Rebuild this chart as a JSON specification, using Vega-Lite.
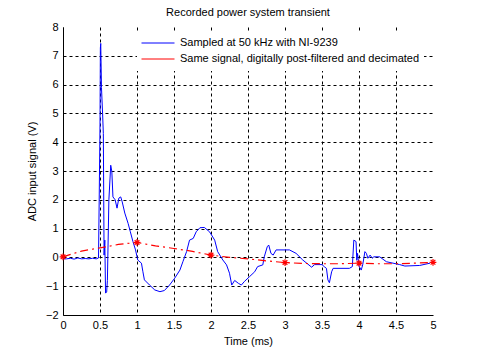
{
  "$schema": "https://vega.github.io/schema/vega-lite/v6.json",
  "width": 370,
  "height": 288,
  "autosize": {"type": "none"},
  "padding": {"left": 63, "top": 27, "right": 47, "bottom": 40},
  "background": "white",
  "title": {"text": "Recorded power system transient", "fontSize": 11, "fontWeight": "normal", "font": "Liberation Sans", "color": "black", "offset": 3, "anchor": "middle"},
  "config": {
    "view": {"stroke": null},
    "font": "Liberation Sans",
    "axis": {"labelFont": "Liberation Sans", "titleFont": "Liberation Sans", "labelFontSize": 11, "titleFontSize": 11, "titleFontWeight": "normal", "labelColor": "black", "titleColor": "black", "domainColor": "black", "gridColor": "black", "gridDash": [3, 3], "gridOpacity": 1, "gridWidth": 1, "ticks": false}
  },
  "data": {"values": [
    {"t": 0, "v": -0.05, "series": "Sampled at 50 kHz with NI-9239"},
    {"t": 0.05, "v": -0.05, "series": "Sampled at 50 kHz with NI-9239"},
    {"t": 0.1, "v": -0.03, "series": "Sampled at 50 kHz with NI-9239"},
    {"t": 0.15, "v": -0.06, "series": "Sampled at 50 kHz with NI-9239"},
    {"t": 0.2, "v": -0.02, "series": "Sampled at 50 kHz with NI-9239"},
    {"t": 0.25, "v": -0.05, "series": "Sampled at 50 kHz with NI-9239"},
    {"t": 0.3, "v": -0.04, "series": "Sampled at 50 kHz with NI-9239"},
    {"t": 0.35, "v": -0.05, "series": "Sampled at 50 kHz with NI-9239"},
    {"t": 0.4, "v": -0.03, "series": "Sampled at 50 kHz with NI-9239"},
    {"t": 0.45, "v": -0.05, "series": "Sampled at 50 kHz with NI-9239"},
    {"t": 0.48, "v": -0.02, "series": "Sampled at 50 kHz with NI-9239"},
    {"t": 0.49, "v": 2.2, "series": "Sampled at 50 kHz with NI-9239"},
    {"t": 0.5, "v": 4.6, "series": "Sampled at 50 kHz with NI-9239"},
    {"t": 0.505, "v": 7.27, "series": "Sampled at 50 kHz with NI-9239"},
    {"t": 0.51, "v": 7.43, "series": "Sampled at 50 kHz with NI-9239"},
    {"t": 0.52, "v": 5.9, "series": "Sampled at 50 kHz with NI-9239"},
    {"t": 0.535, "v": 5.0, "series": "Sampled at 50 kHz with NI-9239"},
    {"t": 0.545, "v": 4.3, "series": "Sampled at 50 kHz with NI-9239"},
    {"t": 0.555, "v": 0.08, "series": "Sampled at 50 kHz with NI-9239"},
    {"t": 0.565, "v": 0.6, "series": "Sampled at 50 kHz with NI-9239"},
    {"t": 0.575, "v": -1.24, "series": "Sampled at 50 kHz with NI-9239"},
    {"t": 0.59, "v": -1.2, "series": "Sampled at 50 kHz with NI-9239"},
    {"t": 0.6, "v": -0.8, "series": "Sampled at 50 kHz with NI-9239"},
    {"t": 0.62, "v": 2.0, "series": "Sampled at 50 kHz with NI-9239"},
    {"t": 0.645, "v": 3.2, "series": "Sampled at 50 kHz with NI-9239"},
    {"t": 0.66, "v": 2.98, "series": "Sampled at 50 kHz with NI-9239"},
    {"t": 0.675, "v": 2.1, "series": "Sampled at 50 kHz with NI-9239"},
    {"t": 0.705, "v": 2.0, "series": "Sampled at 50 kHz with NI-9239"},
    {"t": 0.73, "v": 1.71, "series": "Sampled at 50 kHz with NI-9239"},
    {"t": 0.755, "v": 2.06, "series": "Sampled at 50 kHz with NI-9239"},
    {"t": 0.78, "v": 2.1, "series": "Sampled at 50 kHz with NI-9239"},
    {"t": 0.8, "v": 1.93, "series": "Sampled at 50 kHz with NI-9239"},
    {"t": 0.835, "v": 1.54, "series": "Sampled at 50 kHz with NI-9239"},
    {"t": 0.88, "v": 1.18, "series": "Sampled at 50 kHz with NI-9239"},
    {"t": 0.91, "v": 0.89, "series": "Sampled at 50 kHz with NI-9239"},
    {"t": 0.945, "v": 0.55, "series": "Sampled at 50 kHz with NI-9239"},
    {"t": 0.98, "v": 0.26, "series": "Sampled at 50 kHz with NI-9239"},
    {"t": 1.01, "v": -0.09, "series": "Sampled at 50 kHz with NI-9239"},
    {"t": 1.06, "v": -0.2, "series": "Sampled at 50 kHz with NI-9239"},
    {"t": 1.08, "v": -0.5, "series": "Sampled at 50 kHz with NI-9239"},
    {"t": 1.1, "v": -0.78, "series": "Sampled at 50 kHz with NI-9239"},
    {"t": 1.17, "v": -0.96, "series": "Sampled at 50 kHz with NI-9239"},
    {"t": 1.24, "v": -1.13, "series": "Sampled at 50 kHz with NI-9239"},
    {"t": 1.31, "v": -1.19, "series": "Sampled at 50 kHz with NI-9239"},
    {"t": 1.37, "v": -1.15, "series": "Sampled at 50 kHz with NI-9239"},
    {"t": 1.44, "v": -0.96, "series": "Sampled at 50 kHz with NI-9239"},
    {"t": 1.51, "v": -0.72, "series": "Sampled at 50 kHz with NI-9239"},
    {"t": 1.58, "v": -0.44, "series": "Sampled at 50 kHz with NI-9239"},
    {"t": 1.62, "v": -0.15, "series": "Sampled at 50 kHz with NI-9239"},
    {"t": 1.67, "v": 0.2, "series": "Sampled at 50 kHz with NI-9239"},
    {"t": 1.71, "v": 0.6, "series": "Sampled at 50 kHz with NI-9239"},
    {"t": 1.76, "v": 0.66, "series": "Sampled at 50 kHz with NI-9239"},
    {"t": 1.8, "v": 0.89, "series": "Sampled at 50 kHz with NI-9239"},
    {"t": 1.85, "v": 1.03, "series": "Sampled at 50 kHz with NI-9239"},
    {"t": 1.91, "v": 1.04, "series": "Sampled at 50 kHz with NI-9239"},
    {"t": 1.98, "v": 0.89, "series": "Sampled at 50 kHz with NI-9239"},
    {"t": 2.05, "v": 0.6, "series": "Sampled at 50 kHz with NI-9239"},
    {"t": 2.09, "v": 0.2, "series": "Sampled at 50 kHz with NI-9239"},
    {"t": 2.16, "v": -0.09, "series": "Sampled at 50 kHz with NI-9239"},
    {"t": 2.21, "v": -0.26, "series": "Sampled at 50 kHz with NI-9239"},
    {"t": 2.25, "v": -0.55, "series": "Sampled at 50 kHz with NI-9239"},
    {"t": 2.28, "v": -0.96, "series": "Sampled at 50 kHz with NI-9239"},
    {"t": 2.32, "v": -0.8, "series": "Sampled at 50 kHz with NI-9239"},
    {"t": 2.37, "v": -0.9, "series": "Sampled at 50 kHz with NI-9239"},
    {"t": 2.41, "v": -0.96, "series": "Sampled at 50 kHz with NI-9239"},
    {"t": 2.45, "v": -0.84, "series": "Sampled at 50 kHz with NI-9239"},
    {"t": 2.52, "v": -0.67, "series": "Sampled at 50 kHz with NI-9239"},
    {"t": 2.59, "v": -0.5, "series": "Sampled at 50 kHz with NI-9239"},
    {"t": 2.63, "v": -0.32, "series": "Sampled at 50 kHz with NI-9239"},
    {"t": 2.7, "v": -0.26, "series": "Sampled at 50 kHz with NI-9239"},
    {"t": 2.72, "v": 0.02, "series": "Sampled at 50 kHz with NI-9239"},
    {"t": 2.76, "v": 0.37, "series": "Sampled at 50 kHz with NI-9239"},
    {"t": 2.78, "v": 0.43, "series": "Sampled at 50 kHz with NI-9239"},
    {"t": 2.81, "v": 0.14, "series": "Sampled at 50 kHz with NI-9239"},
    {"t": 2.84, "v": 0.08, "series": "Sampled at 50 kHz with NI-9239"},
    {"t": 2.88, "v": 0.26, "series": "Sampled at 50 kHz with NI-9239"},
    {"t": 3.06, "v": 0.26, "series": "Sampled at 50 kHz with NI-9239"},
    {"t": 3.15, "v": 0.14, "series": "Sampled at 50 kHz with NI-9239"},
    {"t": 3.24, "v": -0.09, "series": "Sampled at 50 kHz with NI-9239"},
    {"t": 3.36, "v": -0.34, "series": "Sampled at 50 kHz with NI-9239"},
    {"t": 3.4, "v": -0.25, "series": "Sampled at 50 kHz with NI-9239"},
    {"t": 3.5, "v": -0.25, "series": "Sampled at 50 kHz with NI-9239"},
    {"t": 3.53, "v": -0.32, "series": "Sampled at 50 kHz with NI-9239"},
    {"t": 3.56, "v": -0.38, "series": "Sampled at 50 kHz with NI-9239"},
    {"t": 3.58, "v": -0.78, "series": "Sampled at 50 kHz with NI-9239"},
    {"t": 3.6, "v": -0.88, "series": "Sampled at 50 kHz with NI-9239"},
    {"t": 3.63, "v": -0.5, "series": "Sampled at 50 kHz with NI-9239"},
    {"t": 3.65, "v": -0.38, "series": "Sampled at 50 kHz with NI-9239"},
    {"t": 3.87, "v": -0.38, "series": "Sampled at 50 kHz with NI-9239"},
    {"t": 3.91, "v": -0.32, "series": "Sampled at 50 kHz with NI-9239"},
    {"t": 3.93, "v": 0.6, "series": "Sampled at 50 kHz with NI-9239"},
    {"t": 3.96, "v": 0.55, "series": "Sampled at 50 kHz with NI-9239"},
    {"t": 3.97, "v": -0.1, "series": "Sampled at 50 kHz with NI-9239"},
    {"t": 3.98, "v": 0.14, "series": "Sampled at 50 kHz with NI-9239"},
    {"t": 4.0, "v": -0.3, "series": "Sampled at 50 kHz with NI-9239"},
    {"t": 4.03, "v": -0.44, "series": "Sampled at 50 kHz with NI-9239"},
    {"t": 4.05, "v": -0.26, "series": "Sampled at 50 kHz with NI-9239"},
    {"t": 4.08, "v": 0.2, "series": "Sampled at 50 kHz with NI-9239"},
    {"t": 4.1, "v": 0.14, "series": "Sampled at 50 kHz with NI-9239"},
    {"t": 4.12, "v": -0.03, "series": "Sampled at 50 kHz with NI-9239"},
    {"t": 4.15, "v": 0.08, "series": "Sampled at 50 kHz with NI-9239"},
    {"t": 4.18, "v": -0.03, "series": "Sampled at 50 kHz with NI-9239"},
    {"t": 4.2, "v": 0.02, "series": "Sampled at 50 kHz with NI-9239"},
    {"t": 4.28, "v": 0.02, "series": "Sampled at 50 kHz with NI-9239"},
    {"t": 4.37, "v": -0.15, "series": "Sampled at 50 kHz with NI-9239"},
    {"t": 4.46, "v": -0.2, "series": "Sampled at 50 kHz with NI-9239"},
    {"t": 4.55, "v": -0.25, "series": "Sampled at 50 kHz with NI-9239"},
    {"t": 4.62, "v": -0.3, "series": "Sampled at 50 kHz with NI-9239"},
    {"t": 4.82, "v": -0.28, "series": "Sampled at 50 kHz with NI-9239"},
    {"t": 4.96, "v": -0.2, "series": "Sampled at 50 kHz with NI-9239"},
    {"t": 0, "v": 0.02, "series": "Same signal, digitally post-filtered and decimated"},
    {"t": 0.25, "v": 0.22, "series": "Same signal, digitally post-filtered and decimated"},
    {"t": 0.5, "v": 0.33, "series": "Same signal, digitally post-filtered and decimated"},
    {"t": 0.75, "v": 0.45, "series": "Same signal, digitally post-filtered and decimated"},
    {"t": 1, "v": 0.52, "series": "Same signal, digitally post-filtered and decimated"},
    {"t": 1.25, "v": 0.4, "series": "Same signal, digitally post-filtered and decimated"},
    {"t": 1.5, "v": 0.31, "series": "Same signal, digitally post-filtered and decimated"},
    {"t": 1.75, "v": 0.21, "series": "Same signal, digitally post-filtered and decimated"},
    {"t": 2, "v": 0.08, "series": "Same signal, digitally post-filtered and decimated"},
    {"t": 2.25, "v": 0.0, "series": "Same signal, digitally post-filtered and decimated"},
    {"t": 2.5, "v": -0.05, "series": "Same signal, digitally post-filtered and decimated"},
    {"t": 2.75, "v": -0.12, "series": "Same signal, digitally post-filtered and decimated"},
    {"t": 3, "v": -0.18, "series": "Same signal, digitally post-filtered and decimated"},
    {"t": 3.25, "v": -0.21, "series": "Same signal, digitally post-filtered and decimated"},
    {"t": 3.5, "v": -0.22, "series": "Same signal, digitally post-filtered and decimated"},
    {"t": 3.75, "v": -0.22, "series": "Same signal, digitally post-filtered and decimated"},
    {"t": 4, "v": -0.2, "series": "Same signal, digitally post-filtered and decimated"},
    {"t": 4.25, "v": -0.22, "series": "Same signal, digitally post-filtered and decimated"},
    {"t": 4.5, "v": -0.22, "series": "Same signal, digitally post-filtered and decimated"},
    {"t": 4.75, "v": -0.2, "series": "Same signal, digitally post-filtered and decimated"},
    {"t": 5, "v": -0.17, "series": "Same signal, digitally post-filtered and decimated"}
  ]},
  "encoding": {
    "x": {"field": "t", "type": "quantitative", "scale": {"domain": [0, 5], "nice": false, "zero": false},
      "axis": {"title": "Time (ms)", "values": [0, 0.5, 1, 1.5, 2, 2.5, 3, 3.5, 4, 4.5, 5], "format": "~g", "labelPadding": 4, "titlePadding": 5, "labelFlush": false, "labelOverlap": false,
        "gridOpacity": {"condition": {"test": "datum.value >= 5", "value": 0}, "value": 1}}},
    "y": {"field": "v", "type": "quantitative", "scale": {"domain": [-2, 8], "nice": false, "zero": false},
      "axis": {"title": "ADC input signal (V)", "values": [-2, -1, 0, 1, 2, 3, 4, 5, 6, 7, 8], "format": "~g", "labelPadding": 5, "titlePadding": 8, "labelFlush": false, "labelOverlap": false,
        "gridOpacity": {"condition": {"test": "datum.value >= 8", "value": 0}, "value": 1}}},
    "color": {"field": "series", "type": "nominal",
      "scale": {"domain": ["Sampled at 50 kHz with NI-9239", "Same signal, digitally post-filtered and decimated"], "range": ["#0000ff", "#ff0000"]},
      "legend": {"title": null, "orient": "none", "legendX": 74, "legendY": 4, "symbolType": "stroke", "symbolSize": 1089, "symbolStrokeWidth": 1, "clipHeight": 16, "rowPadding": 0, "labelFontSize": 11, "labelFont": "Liberation Sans", "labelColor": "black", "labelOffset": 5, "fillColor": "white", "padding": 4, "labelLimit": 400}}
  },
  "layer": [
    {"transform": [{"filter": "datum.series === 'Sampled at 50 kHz with NI-9239'"}],
     "mark": {"type": "line", "strokeWidth": 1, "interpolate": "linear"}},
    {"transform": [{"filter": "datum.series !== 'Sampled at 50 kHz with NI-9239'"}],
     "mark": {"type": "line", "strokeWidth": 1.2, "strokeDash": [8, 4, 2, 4]}},
    {"transform": [{"filter": "datum.series !== 'Sampled at 50 kHz with NI-9239' && datum.t % 1 === 0"}],
     "mark": {"type": "point", "shape": "M-1,0L1,0M0,-1L0,1M-0.7,-0.7L0.7,0.7M-0.7,0.7L0.7,-0.7", "filled": false, "size": 45, "strokeWidth": 1.2, "opacity": 1}}
  ]
}
